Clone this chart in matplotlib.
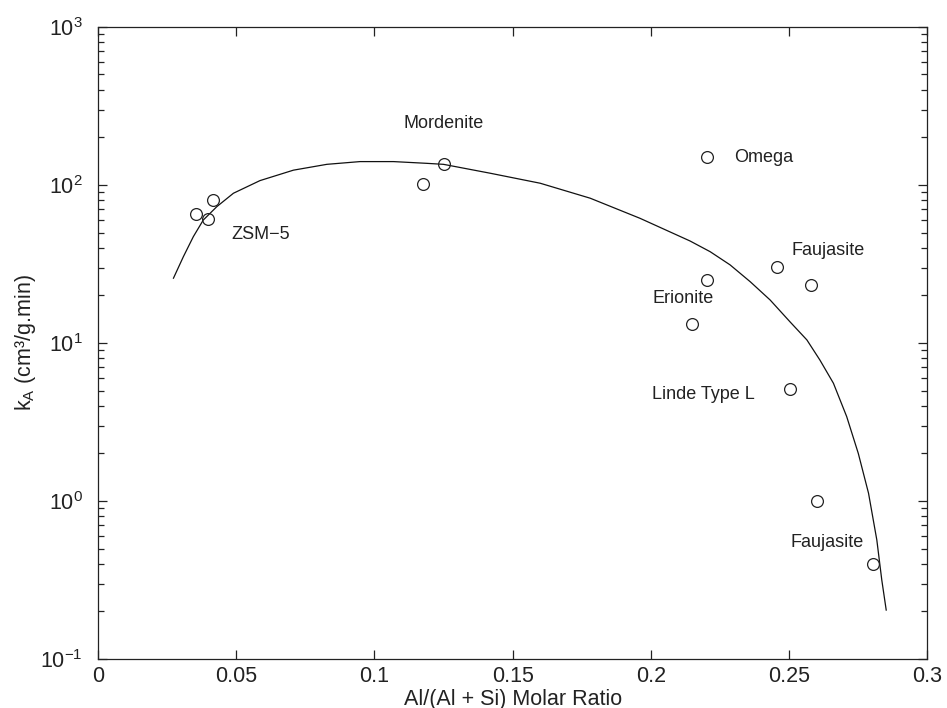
import numpy as np
import matplotlib
matplotlib.use('Agg')
import matplotlib.pyplot as plt
from matplotlib.ticker import FuncFormatter, LogLocator, MultipleLocator

plt.rcParams['font.family'] = ['Liberation Sans', 'DejaVu Sans']
plt.rcParams['mathtext.fontset'] = 'custom'
plt.rcParams['mathtext.rm'] = 'Liberation Sans'
plt.rcParams['mathtext.it'] = 'Liberation Sans:italic'
plt.rcParams['mathtext.default'] = 'regular'

ratio = [0.0355, 0.0398, 0.0416, 0.1176, 0.1252, 0.2204, 0.2204, 0.2150,
         0.2457, 0.2580, 0.2504, 0.2600, 0.2805]
k_a = [65.6, 61.0, 80.0, 101.0, 136.0, 150.0, 25.0, 13.2,
       30.3, 23.3, 5.1, 1.0, 0.40]

# fitted curve
curve_x = [0.0273, 0.0309, 0.0345, 0.0381, 0.0430, 0.0490, 0.0586, 0.0707,
           0.0828, 0.0948, 0.1069, 0.1189, 0.1250, 0.1419, 0.1600, 0.1781,
           0.1961, 0.2142, 0.2215, 0.2287, 0.2360, 0.2432, 0.2504, 0.2565,
           0.2612, 0.2661, 0.2709, 0.2751, 0.2788, 0.2818, 0.2836, 0.2852]
curve_y = [25.7, 35.2, 47.1, 60.0, 72.9, 88.6, 106.5, 124.0,
           135.0, 140.5, 140.5, 137.0, 135.0, 118.6, 102.5, 82.4,
           61.5, 44.2, 37.8, 31.2, 24.4, 18.7, 13.6, 10.45,
           7.80, 5.56, 3.42, 2.00, 1.12, 0.567, 0.316, 0.204]

# zeolite names
names = ['ZSM\u22125', 'Mordenite', 'Omega', 'Faujasite', 'Erionite',
         'Linde Type L', 'Faujasite']
name_x = [0.0484, 0.1104, 0.2302, 0.2508, 0.2005, 0.2005, 0.2504]
name_y = [48.3, 246.0, 150.0, 38.2, 19.0, 4.69, 0.55]

fig = plt.figure(figsize=(9.47, 7.08), dpi=100)
ax = fig.add_axes([0.1035, 0.0692, 0.8755, 0.8928])

ax.plot(curve_x, curve_y, color='#111111', lw=0.9)
ax.plot(ratio, k_a, 'o', mfc='none', mec='#222222', ms=8.5, mew=0.9)

for n, x, y in zip(names, name_x, name_y):
    ax.text(x, y, n, fontsize=13, ha='left', va='center', color='#222222')

ax.set_yscale('log')
ax.set_xlim(0, 0.3)
ax.set_ylim(1e-1, 1e3)
ax.xaxis.set_major_locator(MultipleLocator(0.05))
ax.xaxis.set_major_formatter(FuncFormatter(lambda v, p: '%g' % round(v, 4)))
ax.yaxis.set_major_locator(LogLocator(base=10))
ax.yaxis.set_minor_locator(LogLocator(base=10, subs=np.arange(2, 10)))

for s in ax.spines.values():
    s.set_linewidth(0.9)
    s.set_color('#222222')
ax.tick_params(which='both', direction='in', top=True, right=True,
               color='#222222', width=0.9, labelcolor='#222222')
ax.tick_params(which='major', length=6.5, labelsize=15.5)
ax.tick_params(which='minor', length=4.3)
ax.tick_params(axis='x', pad=5)
ax.tick_params(axis='y', pad=11)

ax.set_xlabel('Al/(Al + Si) Molar Ratio', fontsize=15.5, color='#222222')
ax.set_ylabel('k$_A$ (cm\u00b3/g.min)', fontsize=15.5, color='#222222')
ax.xaxis.set_label_coords(0.5, -0.047)
ax.yaxis.set_label_coords(-0.072, 0.5)

fig.savefig('out.png', dpi=100)
